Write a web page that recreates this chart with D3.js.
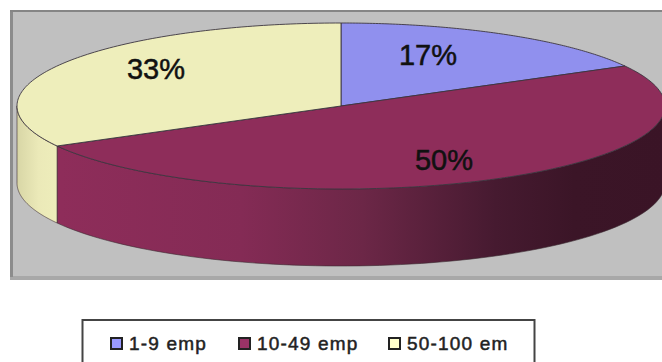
<!DOCTYPE html>
<html>
<head>
<meta charset="utf-8">
<script src="https://cdnjs.cloudflare.com/ajax/libs/d3/7.8.5/d3.min.js"></script>
<style>
html,body{margin:0;padding:0;background:#fff;overflow:hidden}
svg{display:block}
text{font-family:"Liberation Sans",Arial,sans-serif}
</style>
</head>
<body>
<svg id="chart" width="662" height="362"></svg>
<script>
const categories = ["1-9 emp", "10-49 emp", "50-100 em"];
const shares = [17, 50, 33];
const topColors = ["#9090ee", "#8e2d5a", "#eeeebb"];
const swatchColors = ["#9999ff", "#993366", "#ffffcc"];

const width = 662, height = 362;
const cx = 341, cy = 106, rx = 324, ry = 83, depth = 77;

const svg = d3.select("#chart");
const defs = svg.append("defs");

// Plot area panel with its bevelled grey frame
svg.append("rect").attr("x", 10).attr("y", 10).attr("width", width).attr("height", 270)
  .attr("fill", "#a8a8a8");
svg.append("rect").attr("x", 10).attr("y", 10).attr("width", 3).attr("height", 267)
  .attr("fill", "#8c8c8c");
svg.append("rect").attr("x", 10).attr("y", 10).attr("width", width).attr("height", 2)
  .attr("fill", "#858585");
svg.append("rect").attr("x", 13).attr("y", 12).attr("width", width).attr("height", 264)
  .attr("fill", "#c0c0c0");

// Ellipse projection of the pie: unit-circle coordinates map through two scales
const px = d3.scaleLinear().domain([-1, 1]).range([cx - rx, cx + rx]);
const py = d3.scaleLinear().domain([-1, 1]).range([cy - ry, cy + ry]);
const pointAt = a => [px(Math.sin(a)), py(-Math.cos(a))];

const pie = d3.pie().value(d => d).sort(null);
const slices = pie(shares);

// Shaded rim fills, lit from the left and falling off to the right
const rimGradient = (id, stops, x1, x2) => {
  const g = defs.append("linearGradient").attr("id", id)
    .attr("gradientUnits", "userSpaceOnUse")
    .attr("x1", x1).attr("x2", x2).attr("y1", 0).attr("y2", 0);
  stops.forEach(([o, c]) => g.append("stop").attr("offset", o).attr("stop-color", c));
};
rimGradient("rim-maroon", [[0, "#8e2d5a"], [0.3, "#842b55"], [0.5, "#6c2747"],
  [0.72, "#461a30"], [0.85, "#3b1527"], [1, "#3a1426"]], 60, 665);
rimGradient("rim-cream", [[0, "#d8d6a6"], [0.5, "#ebe9b8"], [1, "#eeeebb"]], 17, 60);

// Walk an angular range along the rim; the range is clipped to the visible front half
const rimPath = (a0, a1) => {
  const from = Math.max(a0, Math.PI / 2), to = Math.min(a1, Math.PI * 1.5);
  if (to <= from) return null;
  const n = 80;
  const ang = d3.range(n + 1).map(i => from + (to - from) * i / n);
  const edge = ang.map(pointAt);
  const lower = edge.map(([x, y]) => [x, y + depth]).reverse();
  return d3.line()(edge.concat(lower)) + "Z";
};

const rimFills = ["none", "url(#rim-maroon)", "url(#rim-cream)"];
svg.append("g").selectAll("path").data(slices).join("path")
  .attr("d", d => rimPath(d.startAngle, d.endAngle))
  .attr("fill", (d, i) => rimFills[i])
  .attr("stroke", "#3a2a30").attr("stroke-width", 0.6);

// Top face of each slice
const topPath = d => {
  const n = 120;
  const arcPts = d3.range(n + 1).map(i => pointAt(d.startAngle + (d.endAngle - d.startAngle) * i / n));
  return d3.line()([[px(0), py(0)], ...arcPts]) + "Z";
};
svg.append("g").selectAll("path").data(slices).join("path")
  .attr("d", topPath)
  .attr("fill", (d, i) => topColors[i])
  .attr("stroke", "#3c3540").attr("stroke-width", 0.9);

// Percentage labels placed on the slices
const labelSpots = [[428, 65], [444, 170], [156, 79]];
svg.append("g").selectAll("text").data(shares).join("text")
  .attr("x", (d, i) => labelSpots[i][0])
  .attr("y", (d, i) => labelSpots[i][1])
  .attr("text-anchor", "middle")
  .attr("font-size", 29)
  .attr("fill", "#111")
  .attr("stroke", "#111").attr("stroke-width", 0.5)
  .text(d => d + "%");

// Legend box, running off the bottom of the page
svg.append("rect").attr("x", 82.5).attr("y", 320).attr("width", 452).attr("height", 60)
  .attr("fill", "#fff").attr("stroke", "#444").attr("stroke-width", 2);

const legendX = [111, 239, 389];
const legend = svg.append("g").selectAll("g").data(categories).join("g")
  .attr("transform", (d, i) => `translate(${legendX[i]},338)`);
legend.append("rect").attr("width", 11).attr("height", 11)
  .attr("fill", (d, i) => swatchColors[i]).attr("stroke", "#222").attr("stroke-width", 2);
legend.append("text").attr("x", 18).attr("y", 12)
  .attr("font-size", 19).attr("letter-spacing", 1.2).attr("fill", "#222")
  .attr("stroke", "#222").attr("stroke-width", 0.5)
  .text(d => d);
</script>
</body>
</html>
